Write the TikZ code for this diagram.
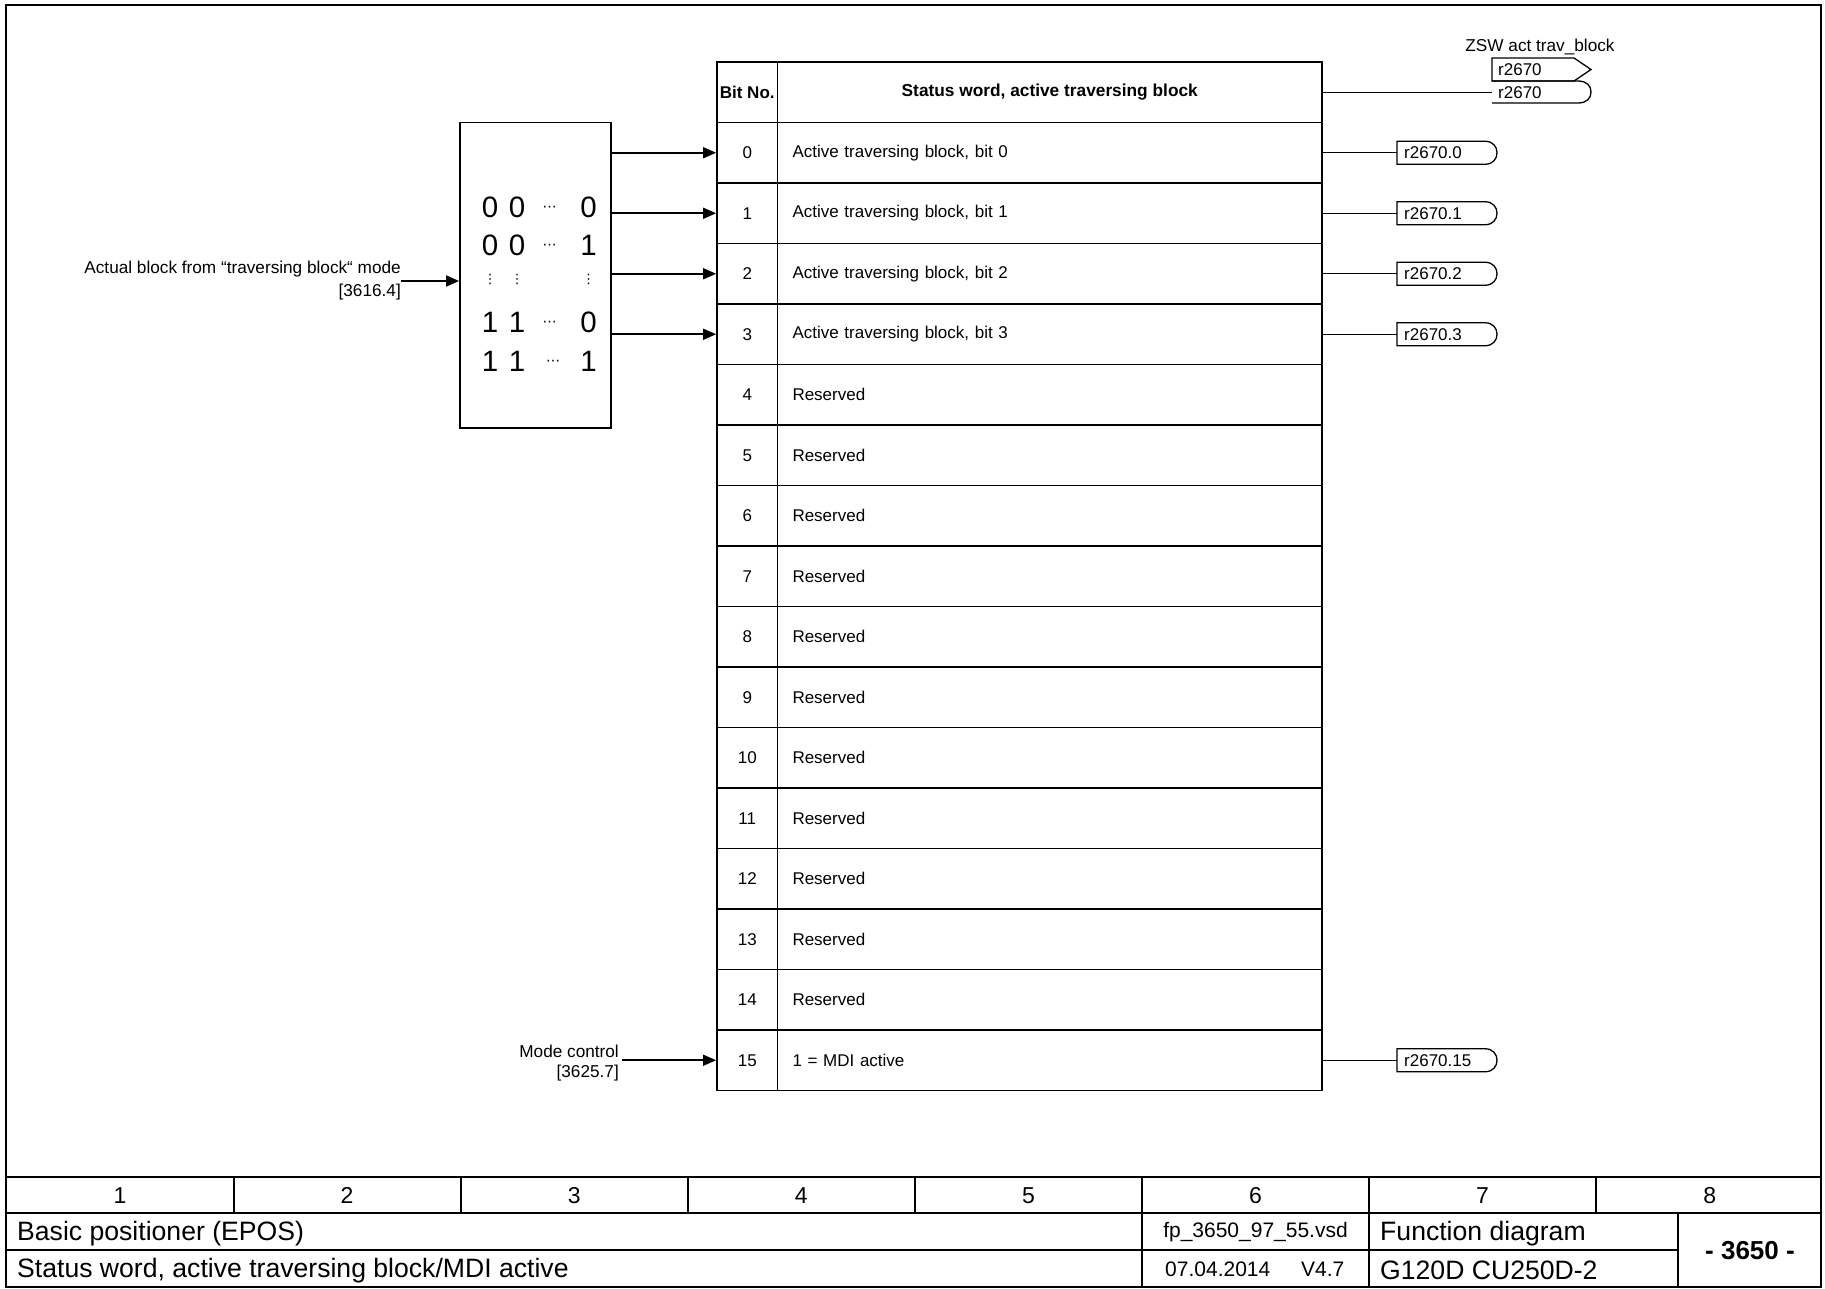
\documentclass[tikz,border=0pt]{standalone}
\usepackage{fontspec}
\setmainfont{Liberation Sans}
\newfontfamily\dejavu{DejaVu Sans}
\usetikzlibrary{arrows.meta}
\newcommand\outconn[3]{%
  \node[conntext] (#1) at (1397,#2) {#3};
  \draw[thinln] (1397,#2-11.5) -- (1485,#2-11.5) .. controls (1493,#2-11.5) and (1497,#2-6) .. (1497,#2) .. controls (1497,#2+6) and (1493,#2+11.5) .. (1485,#2+11.5) -- (1397,#2+11.5) -- cycle;
}
\begin{document}
\begin{tikzpicture}[x=1pt,y=-1pt,
  ln/.style={line width=1.8pt},
  thinln/.style={line width=1.3pt},
  arr/.style={line width=1.6pt,-{Triangle[length=13pt,width=11pt]}},
  txt/.style={inner sep=0pt,font=\fontsize{17.2pt}{23pt}\selectfont},
  cell/.style={draw, line width=1.8pt, minimum height=60.5pt, inner sep=0pt, font=\fontsize{17pt}{20pt}\selectfont},
  bitcell/.style={cell, minimum width=60.5pt},
  desccell/.style={cell, minimum width=544.5pt, text width=514.5pt, inner xsep=15pt, align=left},
  conntext/.style={anchor=west, inner xsep=7pt, inner ysep=0pt, font=\fontsize{17pt}{20pt}\selectfont},
  dig/.style={inner sep=0pt, font=\fontsize{29.5pt}{30pt}\selectfont},
  dots/.style={inner sep=0pt, font=\dejavu\fontsize{14pt}{15pt}\selectfont},
  vdots/.style={inner sep=0pt, font=\dejavu\fontsize{13pt}{14pt}\selectfont},
  foot/.style={inner sep=0pt, font=\fontsize{26.6pt}{30pt}\selectfont},
  footnum/.style={inner sep=0pt, font=\fontsize{23pt}{26pt}\selectfont},
  footsmall/.style={inner sep=0pt, font=\fontsize{21pt}{24pt}\selectfont}]
\useasboundingbox (0,0) rectangle (1825,1288);
% outer frame
\draw[ln] (6,5) rectangle (1821,1287);

% table header
\node[bitcell, font=\bfseries\fontsize{17pt}{20pt}\selectfont] (bh) at (747.25,92.25) {Bit No.};
\node[cell, minimum width=544.5pt, font=\bfseries\fontsize{17.3pt}{20pt}\selectfont] (dh) at (1049.75,92.25) {Status word, active traversing block};

% table rows
\foreach \i in {0,...,3} {
  \node[bitcell] (b\i) at (747.25,{152.75+60.5*\i}) {\i};
  \node[desccell] (d\i) at (1049.75,{152.75+60.5*\i}) {Active traversing block, bit \i};
}
\foreach \i in {4,...,14} {
  \node[bitcell] (b\i) at (747.25,{152.75+60.5*\i}) {\i};
  \node[desccell] (d\i) at (1049.75,{152.75+60.5*\i}) {Reserved};
}
\node[bitcell] (b15) at (747.25,1060.25) {15};
\node[desccell] (d15) at (1049.75,1060.25) {1 = MDI active};

% output connectors
\foreach \i in {0,...,3} {
  \outconn{o\i}{152.75+60.5*\i}{r2670.\i}
  \draw[thinln] (d\i.east) -- (o\i.west);
}
\outconn{o15}{1060.25}{r2670.15}
\draw[thinln] (d15.east) -- (o15.west);

% header output connectors
\node[txt] (zlabel) at (1540,47) {ZSW act trav\_block};
\node[conntext, inner xsep=6pt] (zt) at (1492,69.5) {r2670};
\draw[thinln] (1492,58) -- (1574,58) -- (1591,69.5) -- (1574,81) -- (1492,81) -- cycle;
\node[conntext, inner xsep=6pt] (zb) at (1492,92.25) {r2670};
\draw[thinln] (1492,81) -- (1578,81) .. controls (1587,81) and (1591,86) .. (1591,92) .. controls (1591,98) and (1587,103) .. (1578,103) -- (1492,103);
\draw[thinln] (dh.east) -- (dh.east -| zb.west);

% decoder box
\node[draw, ln, minimum width=151pt, minimum height=305.5pt, inner sep=0pt] (dec) at (535.5,275.25) {};
\node[dig] (r1a) at (490,207.5) {0};
\node[dig] (r1b) at (517,207.5) {0};
\node[dots] (r1c) at (549.5,209) {⋯};
\node[dig] (r1d) at (588.5,207.5) {0};
\node[dig] (r2a) at (490,245) {0};
\node[dig] (r2b) at (517,245) {0};
\node[dots] (r2c) at (549.5,246.5) {⋯};
\node[dig] (r2d) at (588.5,245) {1};
\node[vdots] (v1) at (490,279.5) {⋮};
\node[vdots] (v2) at (517,279.5) {⋮};
\node[vdots] (v3) at (588.5,279.5) {⋮};
\node[dig] (r4a) at (490,322.5) {1};
\node[dig] (r4b) at (517,322.5) {1};
\node[dots] (r4c) at (549.5,324) {⋯};
\node[dig] (r4d) at (588.5,322.5) {0};
\node[dig] (r5a) at (490,361) {1};
\node[dig] (r5b) at (517,361) {1};
\node[dots] (r5c) at (553,362.5) {⋯};
\node[dig] (r5d) at (588.5,361) {1};

\foreach \i in {0,...,3} {
  \draw[arr] (dec.east |- b\i.west) -- (b\i.west);
}

% input
\node[txt, anchor=east, align=right] (intext) at (401,281) {Actual block from “traversing block“ mode\\{[3616.4]}};
\draw[arr] (intext.east) -- (intext.east -| dec.west);

\node[txt, anchor=east, align=right, font=\fontsize{17.2pt}{20.5pt}\selectfont] (mtext) at (619,1063) {Mode control\\{[3625.7]}};
\draw[arr] ([xshift=3pt]b15.west -| mtext.east) -- (b15.west);

% footer
\draw[ln] (6,1177) -- (1821,1177);
\draw[ln] (6,1213) -- (1821,1213);
\draw[ln] (6,1250) -- (1678,1250);
\foreach \x in {234,461,688,915,1142,1369,1596} {
  \draw[ln] (\x,1177) -- (\x,1213);
}
\foreach \x in {1142,1369,1678} {
  \draw[ln] (\x,1213) -- (\x,1288);
}
\foreach \n in {1,...,8} {
  \node[footnum] (n\n) at ({120+227.1*(\n-1)},1195.5) {\n};
}
\node[foot, anchor=west] (f1) at (17,1233.5) {Basic positioner (EPOS)};
\node[foot, anchor=west] (f2) at (17,1270.5) {Status word, active traversing block/MDI active};
\node[footsmall] (f3) at (1255.5,1232) {fp\_3650\_97\_55.vsd};
\node[footsmall, anchor=west] (f4) at (1165,1269.5) {07.04.2014};
\node[footsmall, anchor=west] (f5) at (1301,1269.5) {V4.7};
\node[foot, anchor=west] (f6) at (1380,1233.5) {Function diagram};
\node[foot, anchor=west] (f7) at (1380,1270.5) {G120D CU250D-2};
\node[inner sep=0pt, font=\bfseries\fontsize{26pt}{30pt}\selectfont] (f8) at (1750,1251) {- 3650 -};
\end{tikzpicture}
\end{document}
